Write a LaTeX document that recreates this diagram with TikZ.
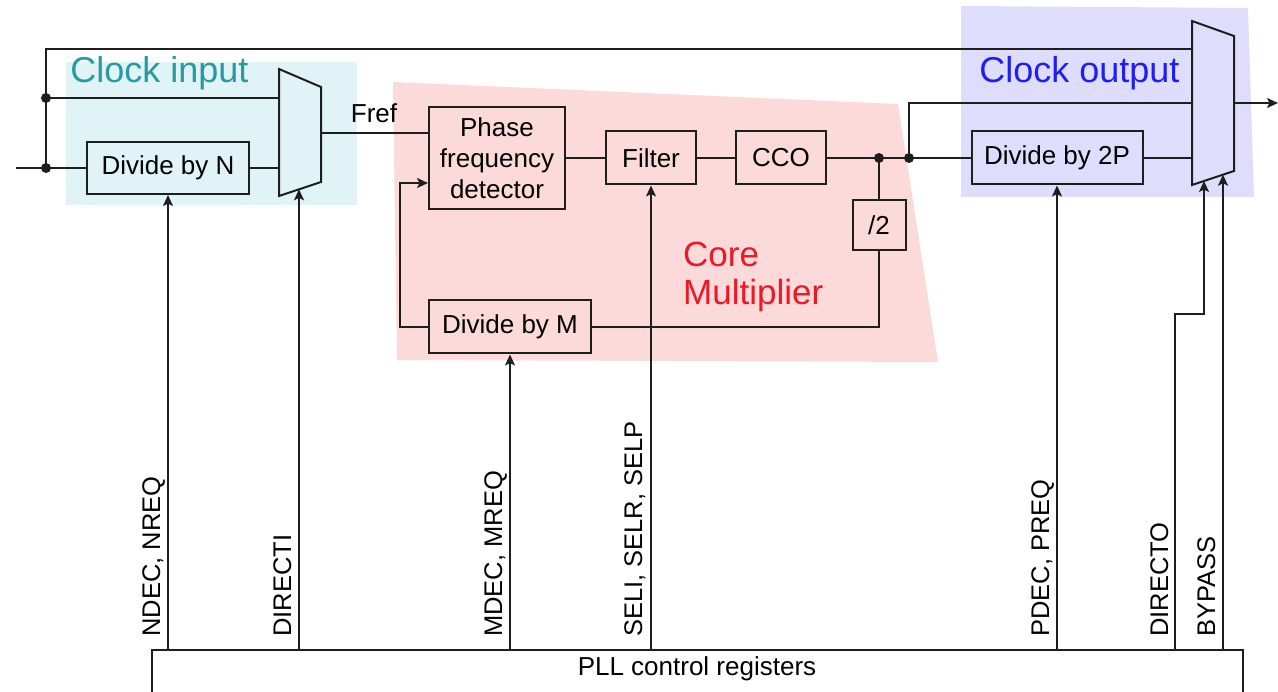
\documentclass[tikz,border=0pt]{standalone}
\usepackage{fontspec}
\setmainfont{Liberation Sans}
\usetikzlibrary{arrows.meta}
\definecolor{cinbg}{RGB}{224,243,246}
\definecolor{coubg}{RGB}{222,222,252}
\definecolor{corebg}{RGB}{252,218,218}
\definecolor{cintxt}{RGB}{40,155,160}
\definecolor{coutxt}{RGB}{30,30,245}
\definecolor{coretxt}{RGB}{235,25,40}
\definecolor{ln}{RGB}{30,30,30}
\begin{document}
\begin{tikzpicture}[x=1pt,y=-1pt,
  wire/.style={draw=ln,line width=1.9pt},
  arr/.style={wire,-{Stealth[length=11pt,width=10pt,inset=2.5pt]}},
  blk/.style={draw=ln,line width=2pt,rectangle,inner sep=0pt,align=center,font=\fontsize{26}{31}\selectfont},
  lbl/.style={font=\fontsize{26}{31}\selectfont,inner sep=0pt},
  vlbl/.style={font=\fontsize{25.5}{30}\selectfont,inner sep=0pt,rotate=90,anchor=base west},
  head/.style={font=\fontsize{36}{40}\selectfont,inner sep=0pt,anchor=base},
  corelbl/.style={font=\fontsize{35}{38}\selectfont,text=coretxt,inner sep=0pt,anchor=base west},
  jdot/.style={circle,fill=ln,inner sep=0pt,minimum size=10pt},
]
\useasboundingbox (0,0) rectangle (1278,692);
% backgrounds
\fill[cinbg] (66,62) rectangle (357,205);
\fill[corebg] (393,82) -- (898,104) -- (938,362) -- (397,360) -- cycle;
\fill[coubg] (961,6) -- (1248,8) -- (1254,197) -- (961,197) -- cycle;
% headings
\node[head,text=cintxt] (hin) at (159.5,83) {Clock input};
\node[head,text=coutxt] (hout) at (1079.5,83) {Clock output};
\node[corelbl] (hcore1) at (683,267) {Core};
\node[corelbl] (hcore2) at (683,305) {Multiplier};
% blocks
\node[blk,minimum width=162pt,minimum height=52pt] (divn) at (168,168) {Divide by N};
\node[blk,minimum width=136pt,minimum height=102pt] (pfd) at (497,158) {Phase\\frequency\\detector};
\node[blk,minimum width=90pt,minimum height=53pt] (filt) at (651,158) {Filter};
\node[blk,minimum width=90pt,minimum height=53pt] (cco) at (781,158) {CCO};
\node[blk,minimum width=53pt,minimum height=50pt] (half) at (879,225) {/2};
\node[blk,minimum width=162pt,minimum height=53pt] (divm) at (510,327) {Divide by M};
\node[blk,minimum width=171pt,minimum height=53pt] (div2p) at (1057,158) {Divide by 2P};
% muxes
\draw[wire,line width=2pt,fill=cinbg] (279,69) -- (321,87) -- (321,182) -- (279,196) -- cycle;
\draw[wire,line width=2pt,fill=coubg] (1192,21) -- (1234,36) -- (1234,171) -- (1192,185) -- cycle;
% named ports
\coordinate (m1a) at (279,98);
\coordinate (m1b) at (279,168);
\coordinate (m1o) at (321,133);
\coordinate (m1s) at (299,189.3);
\coordinate (m2a) at (1192,49);
\coordinate (m2b) at (1192,103);
\coordinate (m2c) at (1192,158);
\coordinate (m2o) at (1234,103);
\coordinate (m2s1) at (1204,181);
\coordinate (m2s2) at (1223,174.7);
\coordinate (inl) at (16,168);
\coordinate (out) at (1278,103);
\coordinate (regtop) at (0,650);
\coordinate (fb) at (400,0);
\coordinate (dirbot) at (1175,650);
\coordinate (dirjog) at (0,314);
\node[jdot] (d1) at (46,98) {};
\node[jdot] (d2) at (46,168) {};
\node[jdot] (d3) at (879,158) {};
\node[jdot] (d4) at (909,158) {};
% wires
\draw[wire] (inl) -- (d2.center) -- (divn.west);
\draw[wire] (d2.center) -- (d1.center) -- (m1a);
\draw[wire] (d1.center) |- (m2a);
\draw[wire] (divn.east) -- (m1b);
\draw[wire] (m1o) -- (pfd.west |- m1o);
\node[lbl,anchor=base] (fref) at (374,123) {Fref};
\draw[wire] (pfd.east) -- (filt.west);
\draw[wire] (filt.east) -- (cco.west);
\draw[wire] (cco.east) -- (d3.center) -- (d4.center) -- (div2p.west);
\draw[wire] (d3.center) -- (half.north);
\draw[wire] (half.south) |- (divm.east);
\draw[arr] (divm.west) -- (fb |- divm.west) |- ([yshift=-25pt]pfd.west);
\draw[wire] (d4.center) |- (m2b);
\draw[wire] (div2p.east) -- (m2c);
\draw[arr] (m2o) -- (out);
% control lines
\draw[arr] (divn.south |- regtop) -- (divn.south);
\draw[arr] (m1s |- regtop) -- (m1s);
\draw[arr] (divm.south |- regtop) -- (divm.south);
\draw[arr] (filt.south |- regtop) -- (filt.south);
\draw[arr] (div2p.south |- regtop) -- (div2p.south);
\draw[arr] (dirbot) |- (dirjog -| m2s1) -- (m2s1);
\draw[arr] (m2s2 |- regtop) -- (m2s2);
% register
\draw[wire] (152,692) -- (152,650) -- (1243,650) -- (1243,692);
\node[lbl] (reg) at (697,669) {PLL control registers};
% vertical labels
\node[vlbl] (lndec) at (160,637) {NDEC, NREQ};
\node[vlbl] (ldiri) at (291,637) {DIRECTI};
\node[vlbl] (lmdec) at (502,637) {MDEC, MREQ};
\node[vlbl] (lsel) at (642,637) {SELI, SELR, SELP};
\node[vlbl] (lpdec) at (1049,637) {PDEC, PREQ};
\node[vlbl] (ldiro) at (1168,637) {DIRECTO};
\node[vlbl] (lbyp) at (1215,637) {BYPASS};
\end{tikzpicture}
\end{document}
